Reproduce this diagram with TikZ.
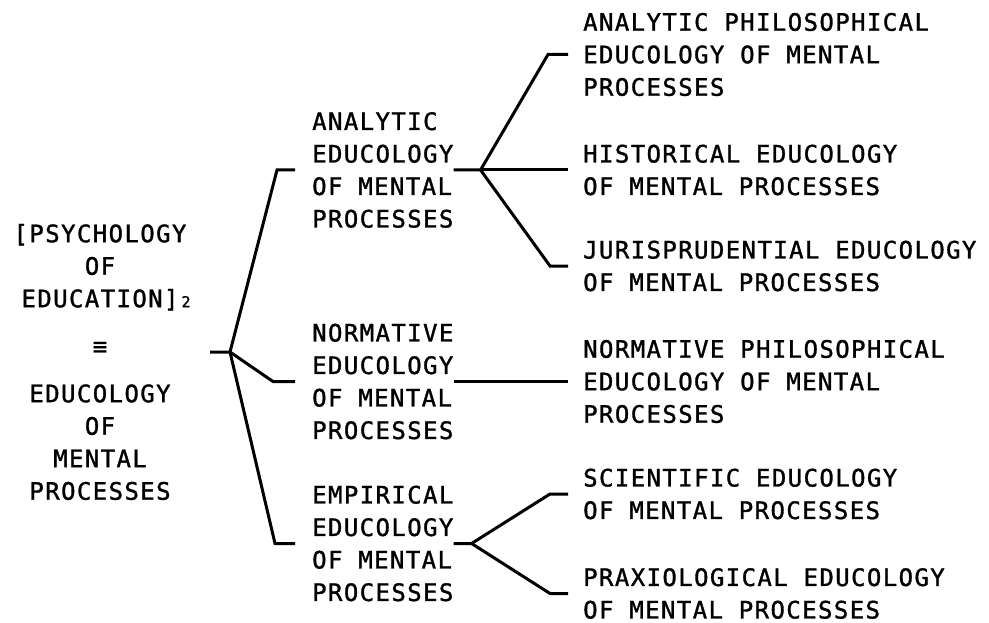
\documentclass[tikz,border=0pt]{standalone}
\usepackage{fontspec}
\newfontfamily\typeface{DejaVu Sans Mono}[LetterSpace=5.8,FakeBold=1.3]
\newcommand\smalltwo{\hspace{3pt}{\fontsize{15}{15}\selectfont 2}}
\begin{document}
\begin{tikzpicture}[x=1pt,y=-1pt,
  txt/.style={font=\typeface\fontsize{24}{32.5}\selectfont, inner sep=0pt, text=black},
  rootnode/.style={txt, align=center, anchor=center},
  midnode/.style={txt, align=left, anchor=west},
  leafnode/.style={txt, align=left, anchor=west},
  branch/.style={draw=black, line width=3pt, line join=miter, line cap=butt}]
  \useasboundingbox (0,0) rectangle (989,623);
  \fill[white] (0,0) rectangle (989,623);

  % root term
  \node[rootnode] (root) at (100,362)
    {[PSYCHOLOGY\\OF\\EDUCATION]\rlap{\smalltwo}\\[15pt]≡\\[15pt]EDUCOLOGY\\OF\\MENTAL\\PROCESSES};

  % second level
  \node[midnode] (an) at (312,170)   {ANALYTIC\\EDUCOLOGY\\OF MENTAL\\PROCESSES};
  \node[midnode] (nm) at (312,381.5) {NORMATIVE\\EDUCOLOGY\\OF MENTAL\\PROCESSES};
  \node[midnode] (em) at (312,543.5) {EMPIRICAL\\EDUCOLOGY\\OF MENTAL\\PROCESSES};

  % third level
  \node[leafnode] (ap) at (583,54.5)  {ANALYTIC PHILOSOPHICAL\\EDUCOLOGY OF MENTAL\\PROCESSES};
  \node[leafnode] (hi) at (583,170)   {HISTORICAL EDUCOLOGY\\OF MENTAL PROCESSES};
  \node[leafnode] (ju) at (583,266)   {JURISPRUDENTIAL EDUCOLOGY\\OF MENTAL PROCESSES};
  \node[leafnode] (np) at (583,381.5) {NORMATIVE PHILOSOPHICAL\\EDUCOLOGY OF MENTAL\\PROCESSES};
  \node[leafnode] (sc) at (583,494)   {SCIENTIFIC EDUCOLOGY\\OF MENTAL PROCESSES};
  \node[leafnode] (px) at (583,593.5) {PRAXIOLOGICAL EDUCOLOGY\\OF MENTAL PROCESSES};

  % root bracket
  \coordinate (rs) at (210,352);
  \coordinate (rj) at (230,352);
  \draw[branch] (rs) -- (rj) -- ([xshift=-35pt]an.west) -- ([xshift=-17pt]an.west);
  \draw[branch] (rj) -- ([xshift=-39pt]nm.west) -- ([xshift=-17pt]nm.west);
  \draw[branch] (rj) -- ([xshift=-37pt]em.west) -- ([xshift=-17pt]em.west);

  % analytic bracket
  \draw[branch] (an.east) -- ++(27,0) coordinate (aj)
                -- ([xshift=-35pt]ap.west) -- ([xshift=-15pt]ap.west);
  \draw[branch] (aj) -- ([xshift=-15pt]hi.west);
  \draw[branch] (aj) -- ([xshift=-33pt]ju.west) -- ([xshift=-15pt]ju.west);

  % normative link
  \draw[branch] (nm.east) -- ([xshift=-15pt]np.west);

  % empirical bracket
  \draw[branch] (em.east) -- ++(18,0) coordinate (ej)
                -- ([xshift=-33pt]sc.west) -- ([xshift=-15pt]sc.west);
  \draw[branch] (ej) -- ([xshift=-33pt]px.west) -- ([xshift=-15pt]px.west);
\end{tikzpicture}
\end{document}
